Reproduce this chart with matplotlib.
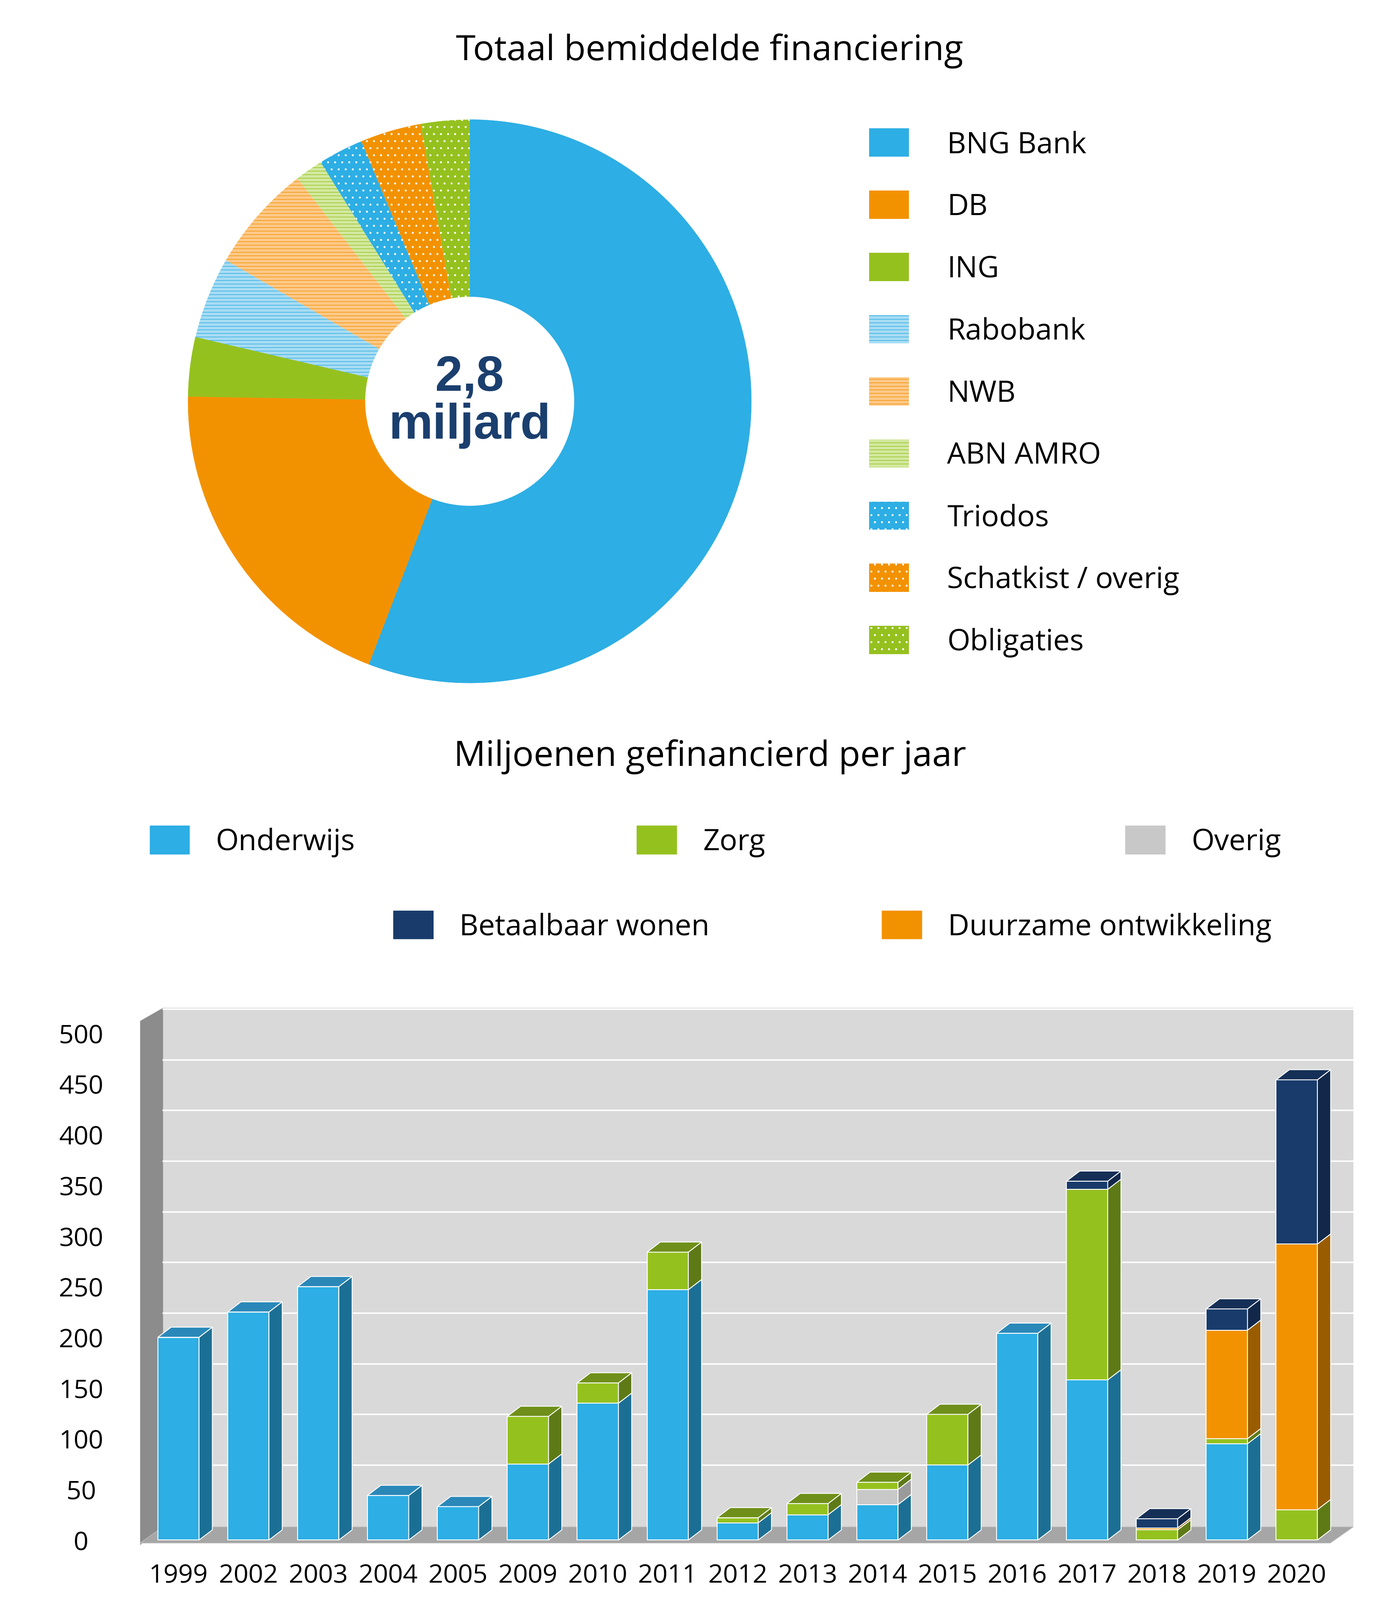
import matplotlib

matplotlib.use("Agg")
import matplotlib.pyplot as plt
from matplotlib.patches import Patch, Polygon, Rectangle

plt.rcParams["font.family"] = "Open Sans"

# --- pie data (share of total, %) ---
PIE_LABELS = ["BNG Bank", "DB", "ING", "Rabobank", "NWB", "ABN AMRO",
              "Triodos", "Schatkist / overig", "Obligaties"]
PIE_SHARES = [56.0, 19.5, 3.4, 4.7, 6.2, 1.6, 2.6, 3.5, 2.8]

# --- bar data (miljoenen per jaar) ---
YEARS = ["1999", "2002", "2003", "2004", "2005", "2009", "2010", "2011", "2012",
         "2013", "2014", "2015", "2016", "2017", "2018", "2019", "2020"]
ONDERWIJS = [200, 225, 250, 44, 33, 75, 135, 247, 17, 25, 35, 74, 204, 158, 0, 95, 0]
OVERIG = [0, 0, 0, 0, 0, 0, 0, 0, 0, 0, 15, 0, 0, 0, 0, 0, 0]
ZORG = [0, 0, 0, 0, 0, 47, 20, 37, 5, 11, 7, 50, 0, 188, 10, 5, 30]
DUURZAAM = [0, 0, 0, 0, 0, 0, 0, 0, 0, 0, 0, 0, 0, 0, 2, 107, 262]
WONEN = [0, 0, 0, 0, 0, 0, 0, 0, 0, 0, 0, 0, 0, 8, 9, 21, 162]
Y_TICKS = [0, 50, 100, 150, 200, 250, 300, 350, 400, 450, 500]

BLUE, ORANGE, GREEN, NAVY, GREY = "#2daee4", "#f39200", "#95c11f", "#183b6b", "#c8c8c8"

fig = plt.figure(figsize=(33.07, 37.8), dpi=100)

# ---------------- pie ----------------
fig.text(0.507, 0.968, "Totaal bemiddelde financiering", ha="center", va="center", fontsize=60)
ax_pie = fig.add_axes([0.134, 0.573, 0.403, 0.352])
styles = [
    (BLUE, None, None), (ORANGE, None, None), (GREEN, None, None),
    ("#a8dcf3", BLUE, "--"), ("#fcc98a", ORANGE, "--"), ("#d3e9a0", GREEN, "--"),
    (BLUE, "white", "."), (ORANGE, "white", "."), (GREEN, "white", "."),
]
wedges, _ = ax_pie.pie(PIE_SHARES, startangle=90, counterclock=False, radius=1.0)
handles = []
for w, (fc, hc, hatch) in zip(wedges, styles):
    w.set_facecolor(fc)
    if hatch:
        w.set_edgecolor(hc)
        w.set_hatch(hatch)
        w.set_linewidth(0)
    else:
        w.set_edgecolor(fc)
        w.set_linewidth(0.5)
    handles.append(Patch(facecolor=fc, edgecolor=hc if hatch else fc,
                         hatch=hatch, linewidth=0))
ax_pie.add_patch(plt.Circle((0, 0), 0.37, color="white", zorder=5))
ax_pie.text(0, 0, "2,8\nmiljard", ha="center", va="center", fontsize=84,
            fontweight="bold", family="Liberation Sans", color="#1b3f6e",
            linespacing=1.05, zorder=6)
ax_pie.set_xlim(-1, 1)
ax_pie.set_ylim(-1, 1)
ax_pie.set_aspect("equal")

fig.legend(handles=handles, labels=PIE_LABELS, loc="upper left",
           bbox_to_anchor=(0.602, 0.936), fontsize=50, frameon=False,
           handlelength=1.35, handleheight=1.1, handletextpad=1.3, labelspacing=1.05)

# ---------------- bar legend ----------------
fig.text(0.507, 0.527, "Miljoenen gefinancierd per jaar", ha="center", va="center", fontsize=60)
legend_items = [("Onderwijs", BLUE, 0.088, 0.474), ("Zorg", GREEN, 0.436, 0.474),
                ("Overig", GREY, 0.785, 0.474), ("Betaalbaar wonen", NAVY, 0.262, 0.421),
                ("Duurzame ontwikkeling", ORANGE, 0.611, 0.421)]
for label, color, lx, ly in legend_items:
    fig.legend(handles=[Patch(facecolor=color, edgecolor=color)], labels=[label],
               loc="center left", bbox_to_anchor=(lx, ly), fontsize=50, frameon=False,
               handlelength=1.35, handleheight=1.1, handletextpad=0.9)

# ---------------- 3D-ish stacked bars ----------------
ax = fig.add_axes([0.1, 0.0343, 0.8667, 0.3357])
x_lo, x_hi, y_lo, y_hi = -0.55, 16.81, -5, 525
ax.set_xlim(x_lo, x_hi)
ax.set_ylim(y_lo, y_hi)
ax.set_facecolor("white")
for s in ax.spines.values():
    s.set_visible(False)

wall_dx, wall_dy = 0.33, 13
ax.add_patch(Rectangle((x_lo + wall_dx, wall_dy), x_hi - x_lo - wall_dx, y_hi - wall_dy,
                       facecolor="#d9d9d9", edgecolor="none", zorder=0))
ax.add_patch(Polygon([(x_lo, y_lo), (x_lo + wall_dx, wall_dy), (x_lo + wall_dx, 525),
                      (x_lo, 512)], closed=True, facecolor="#8c8c8c", edgecolor="none", zorder=0))
ax.add_patch(Polygon([(x_lo, y_lo + 2), (x_hi - wall_dx, y_lo + 2), (x_hi, wall_dy),
                      (x_lo + wall_dx, wall_dy)], closed=True, facecolor="#a6a6a6",
                     edgecolor="#c0c0c0", zorder=0.5))
for t in Y_TICKS[1:]:
    ax.plot([x_lo + wall_dx, x_hi], [t + wall_dy + 11, t + wall_dy + 11], color="white",
            lw=2.5, zorder=0.6)

series = [(ONDERWIJS, BLUE, "#1c6f94", "#2a88b8"), (OVERIG, GREY, "#9a9a9a", "#aaaaaa"),
          (ZORG, GREEN, "#5e7a16", "#6f8f1a"), (DUURZAAM, ORANGE, "#9a5c00", "#b06a00"),
          (WONEN, NAVY, "#12284a", "#152f56")]
bw, dx, dy = 0.59, 0.19, 10
xs = list(range(len(YEARS)))
bottoms = [0] * len(YEARS)
tops = [0] * len(YEARS)
top_color = [None] * len(YEARS)
for vals, front, side, top in series:
    ax.bar(xs, vals, width=bw, bottom=bottoms, color=front, edgecolor="white",
           linewidth=1.5, zorder=3)
    for i, v in enumerate(vals):
        if v <= 0:
            continue
        y0, y1 = bottoms[i], bottoms[i] + v
        xr = xs[i] + bw / 2
        ax.add_patch(Polygon([(xr, y0), (xr + dx, y0 + dy), (xr + dx, y1 + dy), (xr, y1)],
                             closed=True, facecolor=side, edgecolor="white", lw=1.5, zorder=3))
        top_color[i] = top
        tops[i] = y1
    bottoms = [b + v for b, v in zip(bottoms, vals)]
for i, t in enumerate(tops):
    xl, xr = xs[i] - bw / 2, xs[i] + bw / 2
    ax.add_patch(Polygon([(xl, t), (xl + dx, t + dy), (xr + dx, t + dy), (xr, t)],
                         closed=True, facecolor=top_color[i], edgecolor="white", lw=1.5, zorder=3))

ax.set_yticks(Y_TICKS)
ax.set_yticklabels([str(t) for t in Y_TICKS], fontsize=44)
ax.set_xticks(xs)
ax.set_xticklabels(YEARS, fontsize=44)
ax.tick_params(length=0, pad=18)
ax.tick_params(axis="y", pad=100)
for lab in ax.get_yticklabels():
    lab.set_horizontalalignment("center")
ax.tick_params(axis="x", pad=30)

fig.savefig("out.png", dpi=100)
